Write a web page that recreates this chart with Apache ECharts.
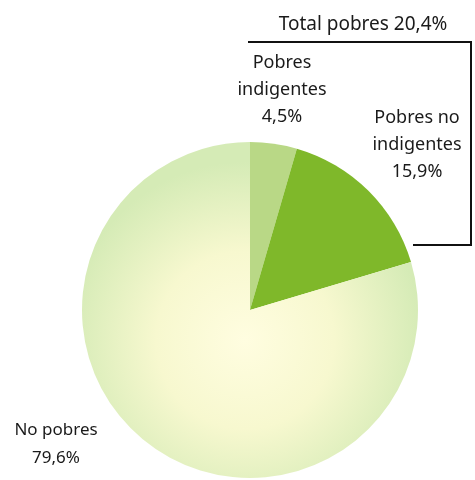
<!DOCTYPE html>
<html>
<head>
<meta charset="utf-8">
<script src="https://cdn.jsdelivr.net/npm/echarts@6/dist/echarts.min.js"></script>
<style>
  html, body { margin: 0; padding: 0; background: #fff; }
  #chart { width: 475px; height: 480px; }
</style>
</head>
<body>
<div id="chart"></div>
<script>
// datos
const categories = ["Pobres\nindigentes", "Pobres no\nindigentes", "No pobres"];
const values = [4.5, 15.9, 79.6];
const totalLabel = "Total pobres 20,4%";

const colors = [
  "#b9d886",
  "#7fb82a",
  new echarts.graphic.RadialGradient(245, 340, 178, [
    { offset: 0, color: "#fffde0" },
    { offset: 0.5, color: "#f7f8cf" },
    { offset: 1, color: "#d5ebb6" },
  ], true),
];
// posiciones de etiquetas
const labelPos = [
  { x: 282, y: 90, fontSize: 18, lineHeight: 27 },
  { x: 417, y: 145, fontSize: 18, lineHeight: 27 },
  { x: 56, y: 444, fontSize: 17, lineHeight: 28 },
];

const fmt = (v) => v.toFixed(1).replace(".", ",") + "%";

let chartDom = document.getElementById("chart");
let Mychart = echarts.init(chartDom);

const option = {
  animation: false,
  textStyle: { fontFamily: "Noto Sans" },
  series: [
    {
      type: "pie",
      center: [250, 310],
      radius: [0, 168],
      startAngle: 90,
      clockwise: true,
      data: categories.map((name, i) => ({
        name: name,
        value: values[i],
        itemStyle: { color: colors[i] },
        label: {
          fontSize: labelPos[i].fontSize,
          lineHeight: labelPos[i].lineHeight,
        },
      })),
      label: {
        show: true,
        position: "outside",
        color: "#1a1a1a",
        overflow: "none",
        align: "center",
        formatter: (p) => p.name + "\n" + fmt(p.value),
      },
      labelLine: { show: false },
      labelLayout: (params) => ({
        x: labelPos[params.dataIndex].x,
        y: labelPos[params.dataIndex].y,
        align: "center",
        verticalAlign: "middle",
      }),
      emphasis: { disabled: true },
    },
  ],
  graphic: [
    {
      type: "text",
      x: 363,
      y: 25,
      style: {
        text: totalLabel,
        fill: "#1a1a1a",
        font: "19px 'Noto Sans'",
        textAlign: "center",
        textVerticalAlign: "middle",
      },
    },
    {
      type: "polyline",
      shape: { points: [[248, 42], [471, 42], [471, 245], [413, 245]] },
      style: { stroke: "#111", lineWidth: 2, fill: null },
    },
  ],
};

Mychart.setOption(option);
</script>
</body>
</html>
